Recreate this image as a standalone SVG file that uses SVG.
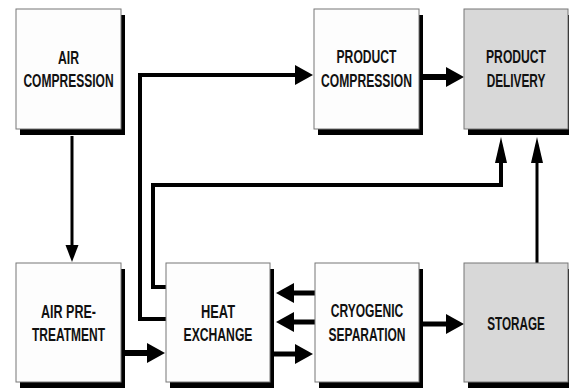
<svg xmlns="http://www.w3.org/2000/svg" width="570" height="391" viewBox="0 0 570 391">
<defs>
<style>
.box{fill:#fdfdfd;stroke:#777;stroke-width:1}
.gray{fill:#d8d8d8}
.sh{fill:#000}
text{font-family:"Liberation Sans",Arial,sans-serif;font-weight:bold;font-size:18.5px;fill:#111;text-anchor:middle}
.c{fill:none;stroke:#000;stroke-linejoin:miter}
</style>
<marker id="ah" markerUnits="userSpaceOnUse" markerWidth="20" markerHeight="22" viewBox="0 0 20 22" refX="8" refY="11" orient="auto"><path d="M0,1 L18,11 L0,21 Z" fill="#000"/></marker>
<marker id="tall" markerUnits="userSpaceOnUse" markerWidth="28" markerHeight="14" viewBox="0 0 28 14" refX="16" refY="7" orient="auto"><path d="M0,1 L26,7 L0,13 Z" fill="#000"/></marker>
<marker id="sm" markerUnits="userSpaceOnUse" markerWidth="18" markerHeight="14" viewBox="0 0 18 14" refX="10" refY="7" orient="auto"><path d="M0,0.5 L17,7 L0,13.5 Z" fill="#000"/></marker>
</defs>
<rect width="570" height="391" fill="#fff"/>
<g id="connectors">
<path class="c" d="M72,136 V255" stroke-width="3" marker-end="url(#sm)"/>
<path class="c" d="M121,353 H155" stroke-width="6" marker-end="url(#ah)"/>
<path class="c" d="M166,319 H140 V75 H303" stroke-width="4" marker-end="url(#ah)"/>
<path class="c" d="M166,287 H153 V185 H501 V147" stroke-width="4" marker-end="url(#tall)"/>
<path class="c" d="M537,263 V147" stroke-width="3" marker-end="url(#tall)"/>
<path class="c" d="M419,77 H454" stroke-width="6" marker-end="url(#ah)"/>
<path class="c" d="M315,293 H286" stroke-width="5" marker-end="url(#ah)"/>
<path class="c" d="M315,322 H286" stroke-width="5" marker-end="url(#ah)"/>
<path class="c" d="M270,354 H303" stroke-width="5" marker-end="url(#ah)"/>
<path class="c" d="M419,324 H454" stroke-width="5" marker-end="url(#ah)"/>
</g>
<g id="air-compression">
<rect class="sh" x="20" y="15" width="105" height="120"/>
<rect class="box" x="16" y="9" width="105" height="120"/>
<text transform="translate(68.5,64) scale(0.66,1)">AIR</text>
<text transform="translate(68.5,87) scale(0.65,1)">COMPRESSION</text>
</g>
<g id="product-compression">
<rect class="sh" x="318" y="15" width="105" height="120"/>
<rect class="box" x="314" y="9" width="105" height="120"/>
<text transform="translate(366.5,63) scale(0.656,1)">PRODUCT</text>
<text transform="translate(366.5,87) scale(0.656,1)">COMPRESSION</text>
</g>
<g id="product-delivery">
<rect class="sh" x="468" y="15" width="101" height="120"/>
<rect class="box gray" x="464" y="9" width="104" height="120"/>
<text transform="translate(516,63) scale(0.656,1)">PRODUCT</text>
<text transform="translate(516,87) scale(0.64,1)">DELIVERY</text>
</g>
<g id="air-pretreatment">
<rect class="sh" x="20" y="269" width="105" height="119"/>
<rect class="box" x="16" y="263" width="105" height="119"/>
<text transform="translate(68.5,318) scale(0.677,1)">AIR PRE-</text>
<text transform="translate(68.5,341) scale(0.649,1)">TREATMENT</text>
</g>
<g id="heat-exchange">
<rect class="sh" x="170" y="269" width="104" height="119"/>
<rect class="box" x="166" y="263" width="104" height="119"/>
<text transform="translate(218,318) scale(0.695,1)">HEAT</text>
<text transform="translate(218,341) scale(0.658,1)">EXCHANGE</text>
</g>
<g id="cryogenic-separation">
<rect class="sh" x="319" y="269" width="104" height="119"/>
<rect class="box" x="315" y="263" width="104" height="119"/>
<text transform="translate(367,317) scale(0.652,1)">CRYOGENIC</text>
<text transform="translate(367,341) scale(0.651,1)">SEPARATION</text>
</g>
<g id="storage">
<rect class="sh" x="468" y="269" width="101" height="119"/>
<rect class="box gray" x="464" y="263" width="104" height="119"/>
<text transform="translate(516,330) scale(0.634,1)">STORAGE</text>
</g>
</svg>
